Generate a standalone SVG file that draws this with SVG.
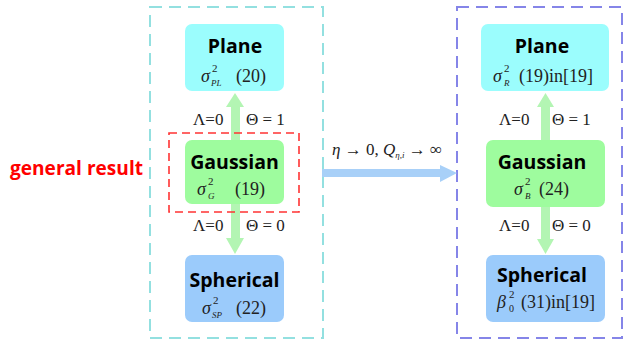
<svg xmlns="http://www.w3.org/2000/svg" width="625" height="342" viewBox="0 0 625 342">
<style>
.title{font-family:"Open Sans","DejaVu Sans",sans-serif;font-weight:bold;font-size:19.5px;fill:#000;text-anchor:middle}
.m{font-family:"Liberation Serif","Times New Roman",serif;font-size:18px;fill:#222}
.i{font-style:italic}
.sup{font-size:11px}
.sub{font-size:9px;font-style:italic}
.sub0{font-size:10px}
.lab{font-family:"Liberation Serif","Times New Roman",serif;font-size:17px;fill:#222}
</style>
<rect width="625" height="342" fill="#fff"/>
<!-- containers -->
<rect x="150" y="7" width="173" height="331" fill="none" stroke="#93e0e0" stroke-width="2" stroke-dasharray="12,7"/>
<rect x="457" y="7" width="165" height="331" fill="none" stroke="#8585e8" stroke-width="2" stroke-dasharray="12,7"/>
<g id="connectors">
  <rect x="231" y="106" width="9" height="133" fill="#b3f5b3"/>
  <polygon points="226,107 244,107 235,93" fill="#b3f5b3"/>
  <polygon points="226,238 244,238 235,254" fill="#b3f5b3"/>
  <rect x="541" y="106" width="9" height="134" fill="#b3f5b3"/>
  <polygon points="537,107 554,107 545.5,93" fill="#b3f5b3"/>
  <polygon points="537,239 554,239 545.5,254" fill="#b3f5b3"/>
  <rect x="322" y="169" width="120" height="8" fill="#a8d0f8"/>
  <polygon points="440,165 440,182 457,173" fill="#a8d0f8"/>
  <text class="lab" x="332" y="155"><tspan class="i">η</tspan> → 0, <tspan class="i">Q</tspan><tspan class="sub" dy="3">η,i</tspan><tspan dy="-3"> → ∞</tspan></text>
  <text class="lab" x="193" y="125">Λ=0</text>
  <text class="lab" x="246" y="125">Θ = 1</text>
  <text class="lab" x="193" y="231">Λ=0</text>
  <text class="lab" x="246" y="231">Θ = 0</text>
  <text class="lab" x="499" y="125">Λ=0</text>
  <text class="lab" x="552" y="125">Θ = 1</text>
  <text class="lab" x="499" y="231">Λ=0</text>
  <text class="lab" x="552" y="231">Θ = 0</text>
</g>
<g id="general-result">
  <rect x="169" y="133" width="130" height="79" fill="none" stroke="#ff3333" stroke-width="1.6" stroke-dasharray="8,5"/>
  <text x="10" y="175" font-family="'Open Sans','DejaVu Sans',sans-serif" font-weight="bold" font-size="19" fill="#ff0000" textLength="133" lengthAdjust="spacingAndGlyphs">general result</text>
</g>
<g id="plane-left">
  <rect x="185" y="24" width="99" height="67" rx="7" fill="#9bfdfd"/>
  <text class="title" x="235" y="53">Plane</text>
  <text class="m i" x="201" y="82">σ</text>
  <text class="m sup" x="212" y="72">2</text>
  <text class="m sub" x="211" y="86">PL</text>
  <text class="m" x="236" y="82">(20)</text>
</g>
<g id="gaussian-left">
  <rect x="185" y="140" width="99" height="64" rx="7" fill="#9efc9e"/>
  <text class="title" x="234.5" y="169">Gaussian</text>
  <text class="m i" x="197" y="195">σ</text>
  <text class="m sup" x="208" y="185">2</text>
  <text class="m sub" x="208" y="199">G</text>
  <text class="m" x="235" y="195">(19)</text>
</g>
<g id="spherical-left">
  <rect x="185" y="255" width="99" height="67" rx="7" fill="#9bcbfb"/>
  <text class="title" x="234.5" y="287">Spherical</text>
  <text class="m i" x="202" y="314">σ</text>
  <text class="m sup" x="213" y="304">2</text>
  <text class="m sub" x="212" y="318">SP</text>
  <text class="m" x="236" y="314">(22)</text>
</g>
<g id="plane-right">
  <rect x="481" y="24" width="128" height="67" rx="7" fill="#9bfdfd"/>
  <text class="title" x="542" y="53">Plane</text>
  <text class="m i" x="493" y="82">σ</text>
  <text class="m sup" x="504" y="72">2</text>
  <text class="m sub" x="504" y="86">R</text>
  <text class="m" x="519" y="82">(19)in[19]</text>
</g>
<g id="gaussian-right">
  <rect x="486" y="140" width="119" height="67" rx="7" fill="#9efc9e"/>
  <text class="title" x="542" y="169">Gaussian</text>
  <text class="m i" x="514" y="195">σ</text>
  <text class="m sup" x="525" y="185">2</text>
  <text class="m sub" x="525" y="199">B</text>
  <text class="m" x="539" y="195">(24)</text>
</g>
<g id="spherical-right">
  <rect x="486" y="255" width="119" height="67" rx="7" fill="#9bcbfb"/>
  <text class="title" x="542" y="282">Spherical</text>
  <text class="m i" x="497" y="308">β</text>
  <text class="m sup" x="509" y="298">2</text>
  <text class="m sub0" x="509" y="312">0</text>
  <text class="m" x="521" y="308">(31)in[19]</text>
</g>
</svg>
